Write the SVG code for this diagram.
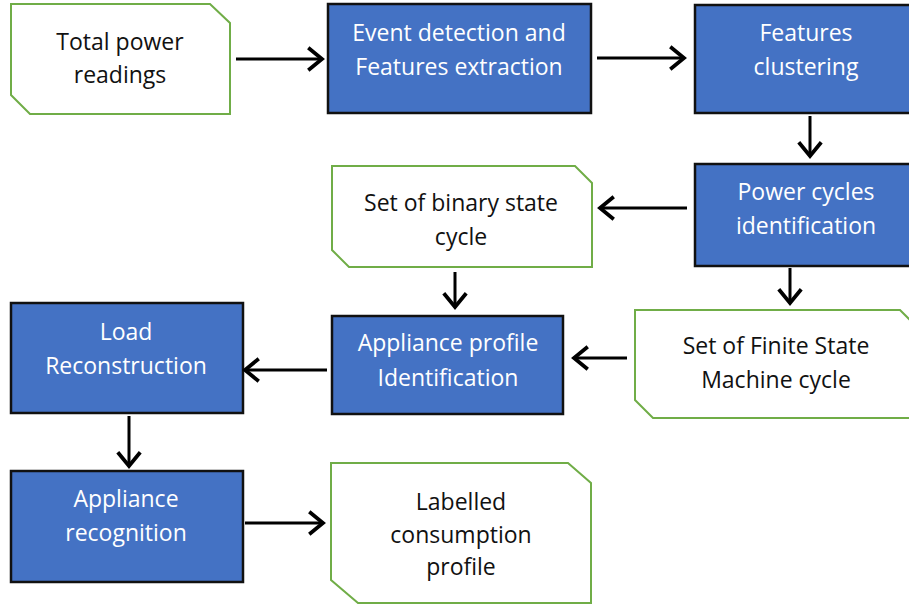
<svg xmlns="http://www.w3.org/2000/svg" width="909" height="605" viewBox="0 0 909 605">
<defs>
<style>
.blue{fill:#4472C4;stroke:#111;stroke-width:2.5}
.green{fill:#fff;stroke:#70AD47;stroke-width:2}
text{font-family:"Open Sans","Noto Sans",sans-serif;font-size:23px;text-anchor:middle}
.w{fill:#fff}
.k{fill:#111}
.conn line{stroke:#000;stroke-width:3;marker-end:url(#ah)}
</style>
<marker id="ah" markerUnits="userSpaceOnUse" markerWidth="30" markerHeight="30" viewBox="-16 -12 20 24" refX="0" refY="0" orient="auto">
<path d="M-11,-9 L0,0 L-11,9" fill="none" stroke="#000" stroke-width="3"/>
</marker>
</defs>
<rect width="909" height="605" fill="#fff"/>
<g id="n-total">
<polygon class="green" points="11,4 210,4 230,23 230,114 30,114 11,95"/>
<text class="k" x="120" y="50">Total power</text>
<text class="k" x="120" y="83">readings</text>
</g>
<g id="n-event">
<rect class="blue" x="328" y="4" width="263" height="109"/>
<text class="w" x="459" y="41">Event detection and</text>
<text class="w" x="459" y="75">Features extraction</text>
</g>
<g id="n-clustering">
<rect class="blue" x="695" y="5" width="220" height="108"/>
<text class="w" x="806" y="41">Features</text>
<text class="w" x="806" y="75">clustering</text>
</g>
<g id="n-powercycles">
<rect class="blue" x="695" y="164" width="220" height="102"/>
<text class="w" x="806" y="200">Power cycles</text>
<text class="w" x="806" y="234">identification</text>
</g>
<g id="n-binary">
<polygon class="green" points="332,166 575,166 592,183 592,267 349,267 332,250"/>
<text class="k" x="461" y="211">Set of binary state</text>
<text class="k" x="461" y="245">cycle</text>
</g>
<g id="n-fsm">
<polygon class="green" points="635,310 900,310 915,325 915,418 653,418 635,400"/>
<text class="k" x="776" y="354">Set of Finite State</text>
<text class="k" x="776" y="388">Machine cycle</text>
</g>
<g id="n-api">
<rect class="blue" x="332" y="316" width="231" height="98"/>
<text class="w" x="448" y="351">Appliance profile</text>
<text class="w" x="448" y="386">Identification</text>
</g>
<g id="n-load">
<rect class="blue" x="11" y="303" width="232" height="110"/>
<text class="w" x="126" y="340">Load</text>
<text class="w" x="126" y="374">Reconstruction</text>
</g>
<g id="n-recognition">
<rect class="blue" x="11" y="471" width="232" height="111"/>
<text class="w" x="126" y="507">Appliance</text>
<text class="w" x="126" y="541">recognition</text>
</g>
<g id="n-labelled">
<polygon class="green" points="331,463 568,463 591,483 591,603 358,603 331,580"/>
<text class="k" x="461" y="510">Labelled</text>
<text class="k" x="461" y="543">consumption</text>
<text class="k" x="461" y="575">profile</text>
</g>
<g id="connectors" class="conn">
<line x1="236" y1="59" x2="322" y2="59"/>
<line x1="597" y1="58" x2="684" y2="58"/>
<line x1="810" y1="116" x2="810" y2="156"/>
<line x1="687" y1="208" x2="600" y2="208"/>
<line x1="790" y1="268" x2="790" y2="303"/>
<line x1="455" y1="272" x2="455" y2="307"/>
<line x1="627" y1="358" x2="574" y2="358"/>
<line x1="327" y1="370" x2="245" y2="370"/>
<line x1="129" y1="416" x2="129" y2="466"/>
<line x1="245" y1="523" x2="323" y2="523"/>
</g>
</svg>
